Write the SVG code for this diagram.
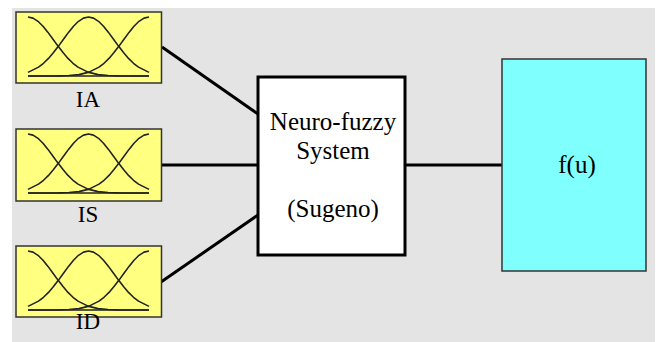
<svg xmlns="http://www.w3.org/2000/svg" xmlns:xlink="http://www.w3.org/1999/xlink" width="658" height="342" viewBox="0 0 658 342">
<style>
.bg{fill:#e4e4e4}
.in{fill:#ffff80;stroke:#333;stroke-width:1.5}
.mf{fill:none;stroke:#222;stroke-width:1.6;stroke-linejoin:round}
.lbl{font-family:"Liberation Serif","Times New Roman",serif;font-size:23px;fill:#000;text-anchor:middle}
.sys{fill:#fff;stroke:#000;stroke-width:3}
.out{fill:#80ffff;stroke:#333;stroke-width:1.5}
.txt{font-family:"Liberation Serif","Times New Roman",serif;font-size:25px;fill:#000;text-anchor:middle}
.con line{stroke:#000;stroke-width:3}
</style>
<defs>
<g id="mfs">
<polyline class="mf" points="0,0 5,1.1 10,4.3 15,9.2 20,15.4 25,22.2 30,29.1 35,35.6 40,41.4 45,46.3 50,50.1 60,55.1 70,57.6 80,58.5 90,58.9 121,59"/>
<polyline class="mf" points="121,0 116,1.1 111,4.3 106,9.2 101,15.4 96,22.2 91,29.1 86,35.6 81,41.4 76,46.3 71,50.1 61,55.1 51,57.6 41,58.5 31,58.9 0,59"/>
<polyline class="mf" points="0,55.4 0.5,55.1 10.5,50.1 15.5,46.3 20.5,41.4 25.5,35.6 30.5,29.1 35.5,22.2 40.5,15.4 45.5,9.2 50.5,4.3 55.5,1.1 60.5,0 65.5,1.1 70.5,4.3 75.5,9.2 80.5,15.4 85.5,22.2 90.5,29.1 95.5,35.6 100.5,41.4 105.5,46.3 110.5,50.1 120.5,55.1 121,55.4"/>
<line class="mf" x1="0" y1="59" x2="121" y2="59"/>
</g>
</defs>
<rect class="bg" x="12" y="8" width="643" height="334"/>
<g class="con">
<line x1="162" y1="47" x2="258" y2="114"/>
<line x1="161" y1="165" x2="258" y2="165"/>
<line x1="161" y1="282" x2="258" y2="215"/>
<line x1="405" y1="165" x2="502" y2="165"/>
</g>
<g id="IA">
<rect class="in" x="16" y="12" width="145.5" height="71"/>
<use xlink:href="#mfs" x="28" y="17"/>
<text class="lbl" x="88" y="107">IA</text>
</g>
<g id="IS">
<rect class="in" x="16" y="129" width="145.5" height="72"/>
<use xlink:href="#mfs" x="28" y="134"/>
<text class="lbl" x="88" y="222">IS</text>
</g>
<g id="ID">
<rect class="in" x="16" y="246" width="145.5" height="71"/>
<use xlink:href="#mfs" x="28" y="251"/>
<text class="lbl" x="88" y="329">ID</text>
</g>
<g id="system">
<rect class="sys" x="258" y="77" width="147" height="178"/>
<text class="txt" x="333" y="130">Neuro-fuzzy</text>
<text class="txt" x="333" y="159">System</text>
<text class="txt" x="333" y="217">(Sugeno)</text>
</g>
<g id="fu">
<rect class="out" x="502" y="59" width="144" height="212"/>
<text class="txt" x="577" y="173">f(u)</text>
</g>
</svg>
